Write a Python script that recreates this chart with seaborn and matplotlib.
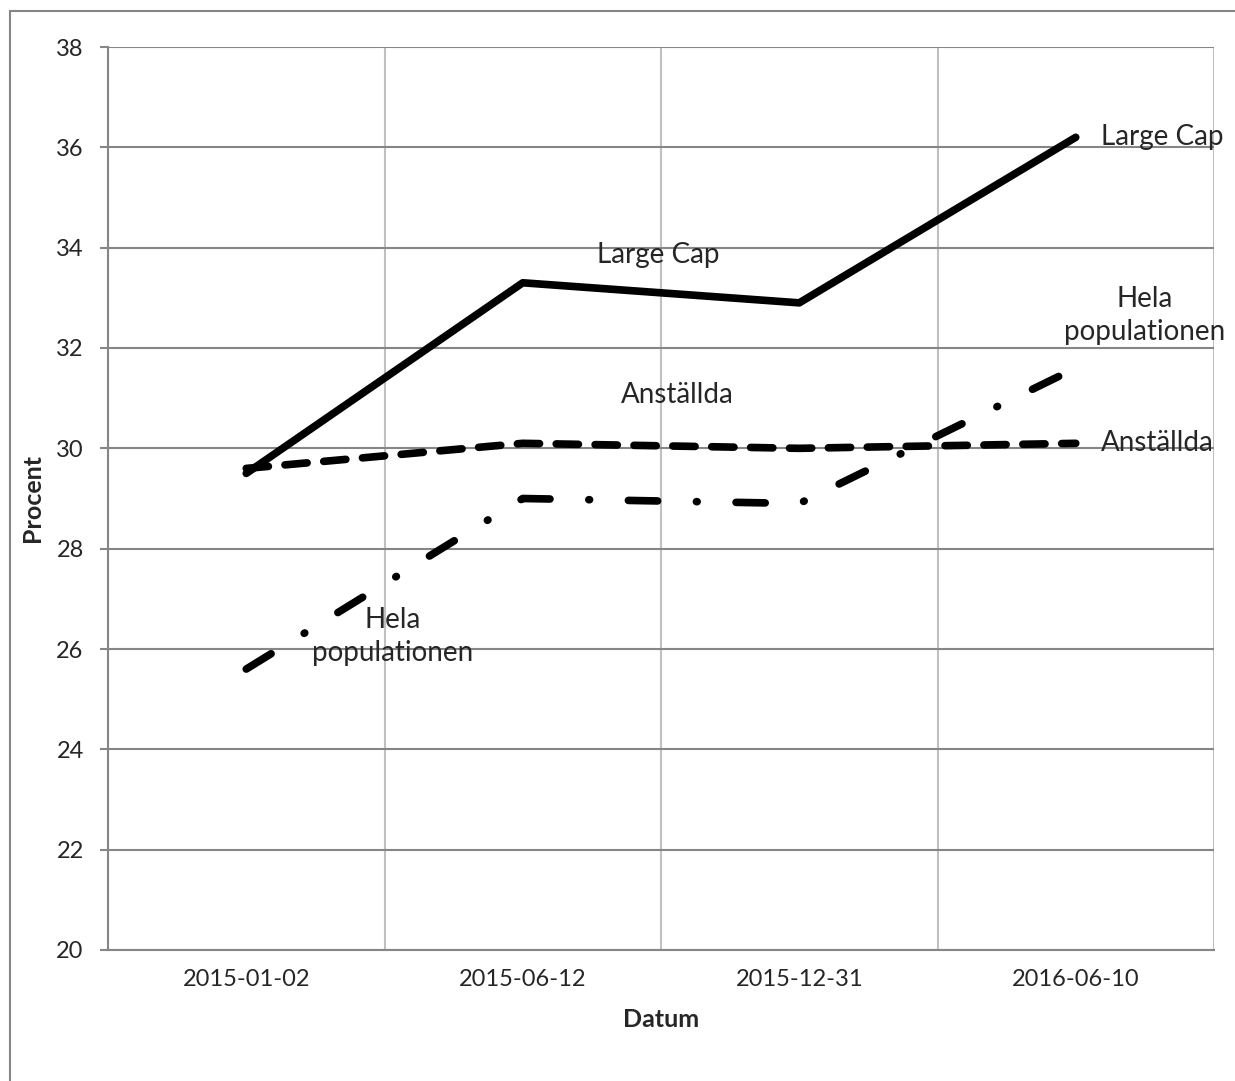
import numpy as np
import pandas as pd
import matplotlib
matplotlib.use("Agg")
import matplotlib.pyplot as plt
import seaborn as sns

# data
dates = ["2015-01-02", "2015-06-12", "2015-12-31", "2016-06-10"]
large_cap = [29.5, 33.3, 32.9, 36.2]
anstallda = [29.6, 30.1, 30.0, 30.1]
hela_pop = [25.6, 29.0, 28.9, 31.6]

yticks = list(range(20, 39, 2))

sns.set_style("white")
plt.rcParams["font.family"] = ["Lato", "DejaVu Sans"]
plt.rcParams["lines.scale_dashes"] = False

df = pd.DataFrame({"Datum": dates, "Large Cap": large_cap,
                   "Anställda": anstallda, "Hela populationen": hela_pop})
df["pos"] = np.arange(len(dates))

fig = plt.figure(figsize=(12.35, 10.81), dpi=100)
ax = fig.add_axes([108 / 1235, 1 - 950 / 1081, (1214 - 108) / 1235, (950 - 47) / 1081])

# figure border
fig.patches.append(plt.Rectangle((10 / 1235, -0.05), 1.1, 1 - 11 / 1081 + 0.05,
                                 transform=fig.transFigure, fill=False,
                                 edgecolor="#868686", lw=1.5, zorder=0))

lw = 5.5
sns.lineplot(data=df, x="pos", y="Large Cap", ax=ax, color="black", lw=lw,
             solid_capstyle="round", solid_joinstyle="round", zorder=5)
sns.lineplot(data=df, x="pos", y="Anställda", ax=ax, color="black", lw=lw,
             linestyle=(0, (16, 12)), dash_capstyle="round", zorder=5)
sns.lineplot(data=df, x="pos", y="Hela populationen", ax=ax, color="black", lw=lw,
             linestyle=(0, (21, 28, 0.5, 28)), dash_capstyle="round", zorder=5)

ax.set_xlim(-0.5, len(dates) - 0.5)
ax.set_ylim(20, 38)
ax.set_yticks(yticks)
ax.set_xticks(df["pos"])
ax.set_xticklabels(dates)
ax.set_xticks(np.arange(-0.5, len(dates), 0.5), minor=True)

ax.grid(False)
ax.yaxis.grid(True, color="#868686", lw=1.5)
ax.xaxis.grid(True, which="minor", color="#c0c0c0", lw=1.5)
ax.set_axisbelow(True)

for s in ["top", "right"]:
    ax.spines[s].set_visible(False)
for s in ["left", "bottom"]:
    ax.spines[s].set_color("#868686")
    ax.spines[s].set_linewidth(1.5)

ax.tick_params(axis="y", which="major", left=True, length=5.5, width=1.5,
               color="#868686", labelsize=17, pad=12)
ax.tick_params(axis="x", which="both", bottom=False, labelsize=17, pad=10)

ax.set_xlabel("Datum", fontsize=18, fontweight="bold", labelpad=13)
ax.set_ylabel("Procent", fontsize=18, fontweight="bold", labelpad=9)

# series labels
fs = 20
ax.text(1.49, 33.85, "Large Cap", ha="center", va="center", fontsize=fs)
ax.text(3.09, large_cap[-1], "Large Cap", ha="left", va="center", fontsize=fs)
ax.text(1.56, 31.06, "Anställda", ha="center", va="center", fontsize=fs)
ax.text(3.09, anstallda[-1], "Anställda", ha="left", va="center", fontsize=fs)
ax.text(0.53, 26.25, "Hela\npopulationen", ha="center", va="center", fontsize=fs,
        linespacing=1.35)
ax.text(3.25, 32.65, "Hela\npopulationen", ha="center", va="center", fontsize=fs,
        linespacing=1.35)

fig.savefig("out.png", dpi=100)
